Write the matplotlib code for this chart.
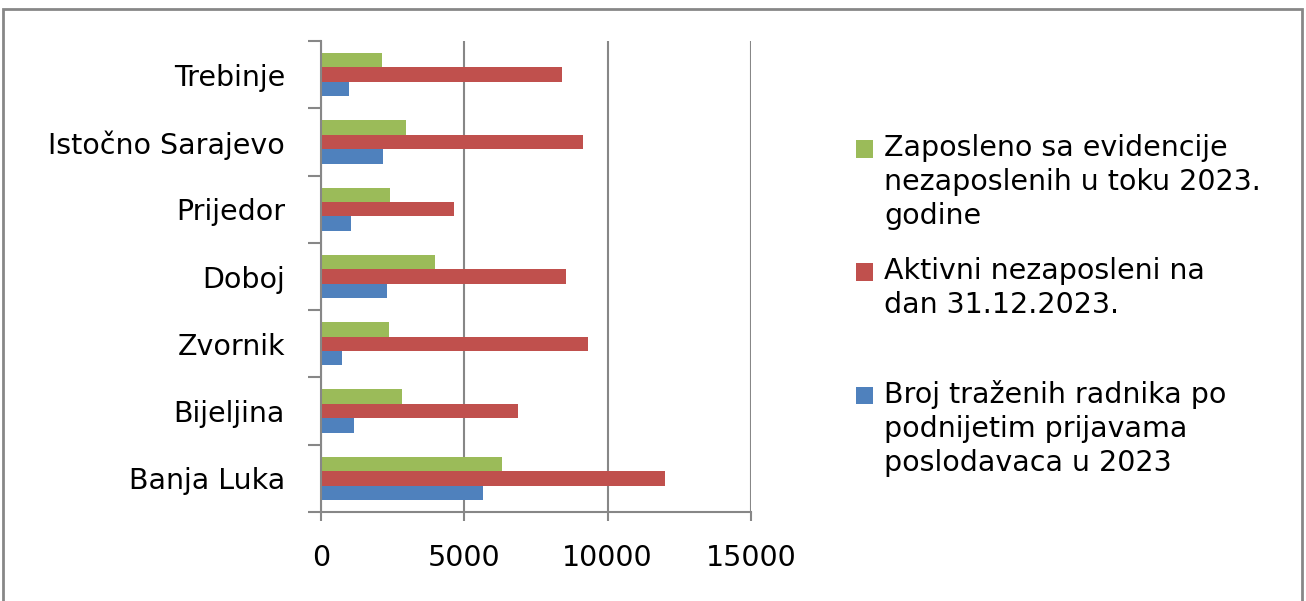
import matplotlib.pyplot as plt
import numpy as np
from matplotlib.patches import Rectangle, Patch
from matplotlib.legend_handler import HandlerPatch

# categories, bottom to top as drawn on the chart
categories = ["Banja Luka", "Bijeljina", "Zvornik", "Doboj", "Prijedor",
              "Istočno Sarajevo", "Trebinje"]
zaposleno = [6310, 2840, 2370, 3980, 2420, 2970, 2130]
aktivni = [12000, 6860, 9310, 8540, 4640, 9130, 8420]
trazeni = [5650, 1160, 740, 2310, 1040, 2180, 985]

# the trailing newline keeps the three legend entries the same height, as in Excel
labels = ["Zaposleno sa evidencije\nnezaposlenih u toku 2023.\ngodine",
          "Aktivni nezaposleni na\ndan 31.12.2023.\n",
          "Broj traženih radnika po\npodnijetim prijavama\nposlodavaca u 2023"]
colors = ["#9BBB59", "#C0504D", "#4F81BD"]
xticks = [0, 5000, 10000, 15000]

plt.rcParams['font.family'] = ['DejaVu Sans']
fs = 20.5
lsp = 1.27
grey = "#878787"


class FirstLineHandler(HandlerPatch):
    # put the legend square next to the first line of a multi-line label
    def create_artists(self, legend, orig_handle, xdescent, ydescent,
                       width, height, fontsize, trans):
        nlines = orig_handle.get_label().count("\n") + 1
        shift = (nlines - 1) / 2 * lsp * 0.94 * fontsize
        p = Rectangle((-xdescent, -ydescent + shift), width, height,
                      facecolor=orig_handle.get_facecolor(), edgecolor='none',
                      transform=trans)
        return [p]


fig = plt.figure(figsize=(13.06, 6.01), dpi=100)
ax = fig.add_axes([321 / 1306, 1 - 512 / 601, 430 / 1306, 471 / 601])

y = np.arange(len(categories))
h = 0.215
ax.barh(y + h, zaposleno, height=h, color=colors[0], zorder=3)
ax.barh(y, aktivni, height=h, color=colors[1], zorder=3)
ax.barh(y - h, trazeni, height=h, color=colors[2], zorder=3)

ax.set_xlim(0, 15000)
ax.set_ylim(-0.5, len(categories) - 0.5)

# x axis
ax.set_xticks(xticks)
ax.set_xticklabels([str(v) for v in xticks], fontsize=fs)
ax.tick_params(axis='x', length=6.5, width=1.5, color=grey, pad=16.5)
ax.grid(axis='x', color=grey, linewidth=1.5, zorder=0)

# y axis: ticks between categories, labels centred on them
ax.set_yticks(np.arange(len(categories) + 1) - 0.5)
ax.set_yticklabels([])
ax.set_yticks(y, minor=True)
ax.set_yticklabels(categories, minor=True, fontsize=fs)
ax.tick_params(axis='y', which='major', length=9.5, width=1.5, color=grey)
ax.tick_params(axis='y', which='minor', length=0, pad=26)

for s in ['top', 'right']:
    ax.spines[s].set_visible(False)
for s in ['left', 'bottom']:
    ax.spines[s].set_color(grey)
    ax.spines[s].set_linewidth(1.5)
    ax.spines[s].set_zorder(4)

handles = [Patch(facecolor=c, label=l) for c, l in zip(colors, labels)]
leg = fig.legend(handles=handles, loc='upper left',
                 bbox_to_anchor=(856 / 1306, 1 - 134 / 601),
                 frameon=False, fontsize=fs, borderpad=0, borderaxespad=0,
                 handlelength=0.6, handleheight=0.56, handletextpad=0.39,
                 labelspacing=0.96, handler_map={Patch: FirstLineHandler()})
for t in leg.get_texts():
    t.set_linespacing(lsp)

# outer chart border
fig.patches.append(Rectangle((3 / 1306, -0.02), 1299 / 1306, 0.02 + 1 - 9 / 601,
                             transform=fig.transFigure, fill=False,
                             edgecolor=grey, linewidth=2))

fig.savefig('out.png', dpi=100)
